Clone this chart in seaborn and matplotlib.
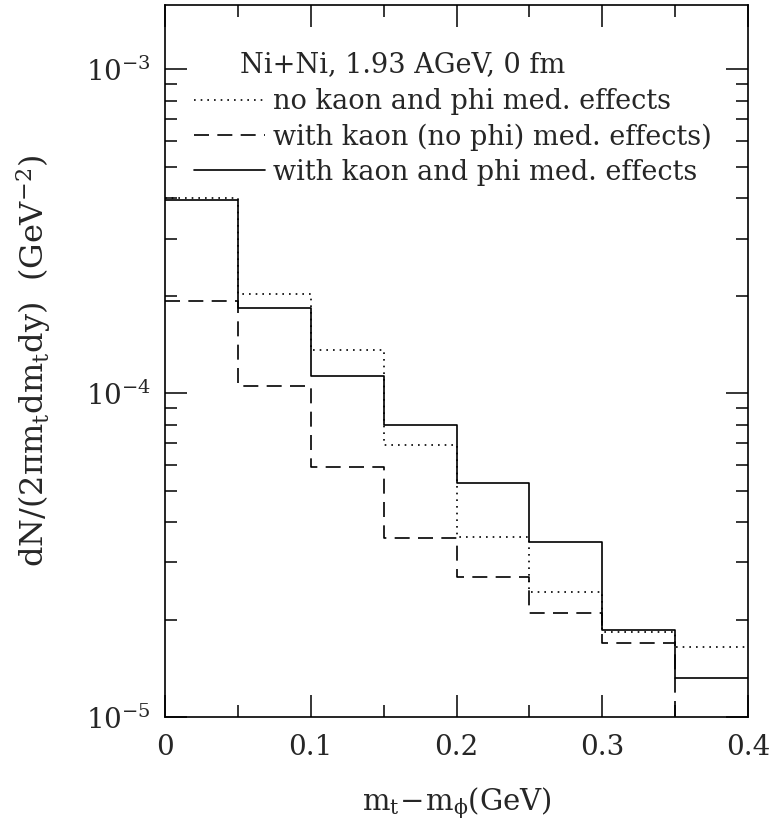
import numpy as np
import matplotlib
matplotlib.use("Agg")
import matplotlib.pyplot as plt
from matplotlib.ticker import MultipleLocator, LogLocator, NullFormatter, FuncFormatter
import seaborn as sns

# bin edges in m_t - m_phi (GeV)
edges = [0.0, 0.05, 0.10, 0.15, 0.20, 0.25, 0.30, 0.35, 0.40]
# dN/(2 pi m_t dm_t dy) per bin
no_med = [4.0e-4, 2.03e-4, 1.36e-4, 6.92e-5, 3.60e-5, 2.44e-5, 1.83e-5, 1.65e-5]
kaon_only = [1.92e-4, 1.055e-4, 5.9e-5, 3.56e-5, 2.70e-5, 2.10e-5, 1.69e-5, 5.0e-6]
kaon_phi = [3.94e-4, 1.83e-4, 1.13e-4, 7.97e-5, 5.28e-5, 3.47e-5, 1.86e-5, 1.32e-5]

labels = ["no kaon and phi med. effects",
          "with kaon (no phi) med. effects)",
          "with kaon and phi med. effects"]

sns.set_theme(style="ticks")
plt.rcParams["font.family"] = ["DejaVu Serif"]
plt.rcParams["mathtext.fontset"] = "dejavuserif"

fig = plt.figure(figsize=(7.77, 8.35), dpi=100)
ax = fig.add_axes([165 / 777, 1 - 717 / 835, 583 / 777, 712 / 835])

styles = [(0, (1, 3)), (0, (9, 5)), "-"]
for vals, ls, lab in zip([no_med, kaon_only, kaon_phi], styles, labels):
    sns.lineplot(x=edges, y=vals + [vals[-1]], drawstyle="steps-post",
                 color="black", linestyle=ls, linewidth=1.2,
                 estimator=None, sort=False, ax=ax, label=lab)

ax.set_yscale("log")
ax.set_xlim(0, 0.4)
ax.set_ylim(1e-5, 1.58e-3)

ax.xaxis.set_major_locator(MultipleLocator(0.1))
ax.xaxis.set_minor_locator(MultipleLocator(0.05))
ax.xaxis.set_major_formatter(FuncFormatter(
    lambda v, p: "0" if abs(v) < 1e-9 else f"{v:.1f}"))
ax.yaxis.set_major_locator(LogLocator(base=10, numticks=10))
ax.yaxis.set_minor_locator(LogLocator(base=10, subs=np.arange(2, 10), numticks=20))
ax.yaxis.set_minor_formatter(NullFormatter())

ax.tick_params(which="both", direction="in", top=True, right=True,
               width=1.1, color="black", labelsize=20)
ax.tick_params(axis="x", pad=12)
ax.tick_params(axis="y", pad=10)
ax.tick_params(which="major", length=16)
ax.tick_params(which="minor", length=8.5)
for s in ax.spines.values():
    s.set_linewidth(1.2)
    s.set_color("black")

ax.set_xlabel(r"$\mathrm{m_t\!-\!m_\phi(GeV)}$", fontsize=21, labelpad=18)
ax.set_ylabel(r"$\mathrm{dN/(2\pi m_t dm_t dy)}$  $\mathrm{(GeV^{-2})}$",
              fontsize=23, labelpad=24)

ax.text(0.129, 0.9157, "Ni+Ni, 1.93 AGeV, 0 fm", transform=ax.transAxes,
        fontsize=19.5, va="center", ha="left")
leg = ax.legend(loc="upper left", bbox_to_anchor=(0.05, 0.883), frameon=False,
                fontsize=19.5, handlelength=2.6, handletextpad=0.3,
                labelspacing=0.3, borderpad=0, borderaxespad=0)

fig.savefig("out.png", dpi=100)
